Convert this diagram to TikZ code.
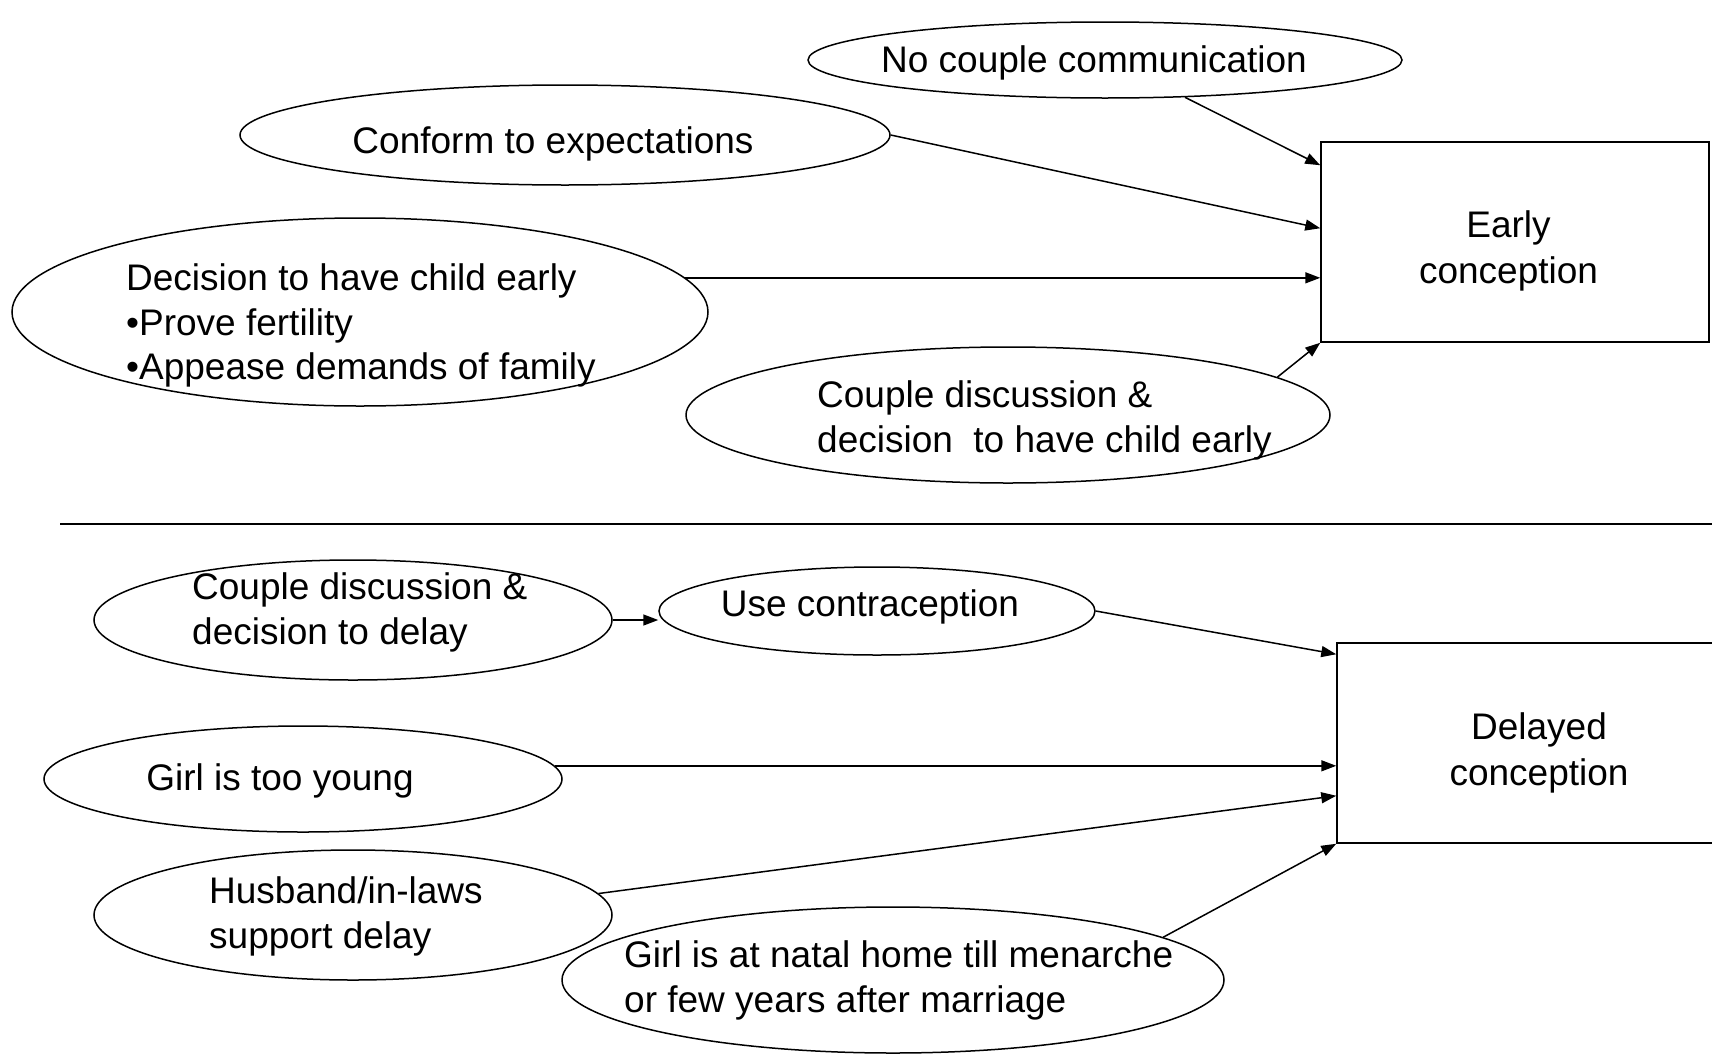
\documentclass[tikz,border=0pt]{standalone}
\usepackage{fontspec}
\setmainfont{Liberation Sans}
\usetikzlibrary{shapes.geometric,arrows.meta}
\begin{document}
\begin{tikzpicture}[x=1pt,y=-1pt,
  oval/.style={draw,ellipse,line width=1.5pt,inner sep=0pt},
  factbox/.style={draw,rectangle,line width=1.5pt,inner sep=0pt},
  lbl/.style={inner sep=0pt,align=left,yshift=-3.5pt,font=\fontsize{37}{44.5}\selectfont},
  boxlbl/.style={inner sep=0pt,align=center,font=\fontsize{37}{46}\selectfont},
  arr/.style={line width=1.5pt,-{Triangle[length=15pt,width=11pt]}},
  rule/.style={line width=1.5pt}
]
\useasboundingbox (0,0) rectangle (1712,1055);
\clip (0,0) rectangle (1712,1055);

% upper half
\node[oval,minimum width=594pt,minimum height=76pt] (A) at (1105,60) {};
\node[lbl] (tA) at (1094,59) {No couple communication};
\node[oval,minimum width=650pt,minimum height=100pt] (B) at (565,135) {};
\node[lbl] (tB) at (553,140) {Conform to expectations};
\node[oval,minimum width=696pt,minimum height=188pt] (C) at (360,312) {};
\node[lbl,anchor=west] (tC) at (126,322) {Decision to have child early\\•Prove fertility\\•Appease demands of family};
\node[oval,minimum width=644pt,minimum height=136pt] (D) at (1008,415) {};
\node[lbl,anchor=west] (tD) at (817,417) {Couple discussion \&\\decision\ \ to have child early};
\node[factbox,minimum width=388pt,minimum height=200pt] (EC) at (1515,242) {};
\node[boxlbl] (tEC) at (1508.5,250.5) {Early\\conception};

\draw[arr] (A.-25) -- ([yshift=-24pt]EC.north west);
\draw[arr] (B.east) -- ([yshift=-87pt]EC.north west);
\draw[arr] (C.6) -- (C.6 -| EC.west);
\draw[arr] (D.8) -- (EC.south west);

% divider
\coordinate (L1) at (60,524);
\coordinate (L2) at (1712,524);
\draw[rule] (L1) -- (L2);

% lower half
\node[oval,minimum width=518pt,minimum height=120pt] (E) at (353,620) {};
\node[lbl,anchor=west] (tE) at (192,609) {Couple discussion \&\\decision to delay};
\node[oval,minimum width=436pt,minimum height=88pt] (F) at (877,611) {};
\node[lbl] (tF) at (870,603) {Use contraception};
\node[oval,minimum width=518pt,minimum height=106pt] (G) at (303,779) {};
\node[lbl] (tG) at (280,777) {Girl is too young};
\node[oval,minimum width=518pt,minimum height=130pt] (H) at (353,915) {};
\node[lbl,anchor=west] (tH) at (209,913) {Husband/in-laws\\support delay};
\node[oval,minimum width=662pt,minimum height=146pt] (I) at (893,980) {};
\node[lbl,anchor=west] (tI) at (624,977) {Girl is at natal home till menarche\\or few years after marriage};
\node[factbox,minimum width=404pt,minimum height=200pt] (DC) at (1539,743) {};
\node[boxlbl] (tDC) at (1539,752.5) {Delayed\\conception};

\draw[arr] (E.east) -- (E.east -| F.west);
\draw[arr] (F.east) -- ([yshift=-12pt]DC.north west);
\draw[arr] (G.3) -- (G.3 -| DC.west);
\draw[arr] (H.5) -- ([yshift=48pt]DC.south west);
\draw[arr] (I.9) -- (DC.south west);
\end{tikzpicture}
\end{document}
